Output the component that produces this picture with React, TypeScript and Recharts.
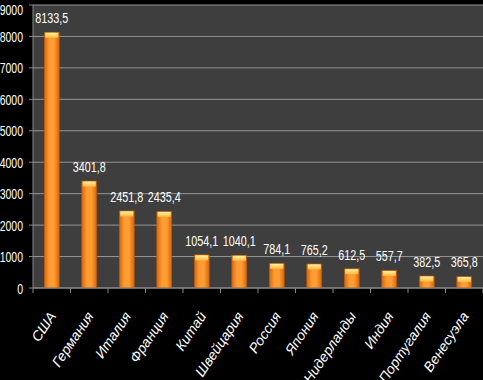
import React from "react";
import { BarChart, Bar, XAxis, YAxis, CartesianGrid, LabelList } from "recharts";

const countries = ["США", "Германия", "Италия", "Франция", "Китай", "Швейцария", "Россия", "Япония", "Нидерланды", "Индия", "Португалия", "Венесуэла"];
const values = [8133.5, 3401.8, 2451.8, 2435.4, 1054.1, 1040.1, 784.1, 765.2, 612.5, 557.7, 382.5, 365.8];
const yTicks = [0, 1000, 2000, 3000, 4000, 5000, 6000, 7000, 8000, 9000];

const data = countries.map((name, i) => ({ name, value: values[i] }));

const W = 483;
const H = 380;
const LEFT = 33;
const BOTTOM = 92;
const HALF_BAND = (W - LEFT) / countries.length / 2;
const FONT = "'Liberation Sans', Arial, sans-serif";
const NARROW = 0.7;

const BarShape = (props: any) => {
  const { x, y, width, height } = props;
  if (!height || height <= 0) return null;
  const cap = Math.min(5, height);
  return (
    <g>
      <rect x={x} y={y} width={width} height={height} fill="url(#barGrad)" stroke="#b9560a" strokeWidth={0.6} />
      <rect x={x + 1} y={y + 0.5} width={width - 2} height={cap} fill="url(#capGrad)" />
    </g>
  );
};

const XTick = (props: any) => {
  const { x, y, payload, index } = props;
  const tx = x + 5;
  const ty = y + 20;
  return (
    <g>
      <line x1={x - HALF_BAND} y1={y - 8} x2={x - HALF_BAND} y2={y - 3} stroke="#888" />
      {index === countries.length - 1 && (
        <line x1={x + HALF_BAND} y1={y - 8} x2={x + HALF_BAND} y2={y - 3} stroke="#888" />
      )}
      <text
        x={tx}
        y={ty}
        transform={`rotate(-56, ${tx}, ${ty})`}
        textAnchor="end"
        fill="#fff"
        fontSize={14}
        fontStyle="italic"
        fontFamily={FONT}
      >
        {payload.value}
      </text>
    </g>
  );
};

const YTick = (props: any) => {
  const { x, y, payload } = props;
  return (
    <text
      transform={`translate(${x}, ${y}) scale(${NARROW}, 1)`}
      x={0}
      y={0}
      dy={5.5}
      textAnchor="end"
      fill="#fff"
      fontSize={15}
      fontFamily={FONT}
    >
      {payload.value}
    </text>
  );
};

const ValueLabel = (props: any) => {
  const { x, y, width, value } = props;
  const cx = x + width / 2;
  const by = y - 9;
  return (
    <text
      transform={`translate(${cx}, ${by}) scale(0.72, 1)`}
      x={0}
      y={0}
      textAnchor="middle"
      fill="#fff"
      fontSize={15}
      fontFamily={FONT}
    >
      {String(value).replace(".", ",")}
    </text>
  );
};

export default function App() {
  return (
    <div style={{ position: "absolute", left: 0, top: 0, width: W, height: H, background: "#000" }}>
      <BarChart width={W} height={H} data={data} margin={{ top: 5, right: 0, bottom: 0, left: 0 }} barCategoryGap="30%">
        <defs>
          <linearGradient id="barGrad" x1="0" y1="0" x2="1" y2="0">
            <stop offset="0%" stopColor="#d9660b" />
            <stop offset="35%" stopColor="#ff9d33" />
            <stop offset="65%" stopColor="#ff9d33" />
            <stop offset="100%" stopColor="#d9660b" />
          </linearGradient>
          <linearGradient id="capGrad" x1="0" y1="0" x2="0" y2="1">
            <stop offset="0%" stopColor="#fff2a0" />
            <stop offset="100%" stopColor="#ffb840" />
          </linearGradient>
        </defs>
        <CartesianGrid vertical={false} stroke="#959595" fill="#3e3e3e" />
        <XAxis
          dataKey="name"
          interval={0}
          stroke="#888"
          tickLine={false}
          tick={<XTick />}
          height={BOTTOM}
        />
        <YAxis
          domain={[0, 9000]}
          ticks={yTicks}
          width={LEFT}
          stroke="#888"
          tickSize={4}
          tickMargin={6}
          tick={<YTick />}
        />
        <Bar dataKey="value" shape={<BarShape />} isAnimationActive={false}>
          <LabelList dataKey="value" content={<ValueLabel />} />
        </Bar>
      </BarChart>
    </div>
  );
}
